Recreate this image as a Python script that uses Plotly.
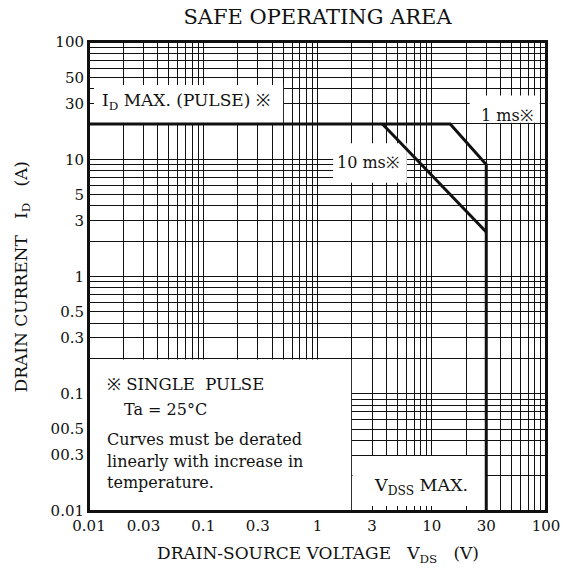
import math
import plotly.graph_objects as go

# ---------------- data ----------------
# outer SOA boundary: ID max (pulse) -> 1 ms line -> VDSS max
soa_v = [0.01, 14.5, 30, 30]
soa_i = [20, 20, 9, 0.01]
# 10 ms line
ms10_v = [3.7, 30]
ms10_i = [20, 2.4]

x_tick_vals = [0.01, 0.03, 0.1, 0.3, 1, 3, 10, 30, 100]
x_tick_text = ["0.01", "0.03", "0.1", "0.3", "1", "3", "10", "30", "100"]
y_tick_vals = [100, 50, 30, 10, 5, 3, 1, 0.5, 0.3, 0.1, 0.05, 0.03, 0.01]
y_tick_text = ["100", "50", "30", "10", "5", "3", "1", "0.5", "0.3", "0.1", "00.5", "00.3", "0.01"]

FONT = "DejaVu Serif"
INK = "#111111"

fig = go.Figure()
fig.add_trace(go.Scatter(x=soa_v, y=soa_i, mode="lines",
                         line=dict(color=INK, width=3), showlegend=False))
fig.add_trace(go.Scatter(x=ms10_v, y=ms10_i, mode="lines",
                         line=dict(color=INK, width=3), showlegend=False))

axis_common = dict(type="log", range=[-2, 2], automargin=False,
                   showgrid=True, gridcolor=INK, gridwidth=1.2,
                   ticks="inside", ticklen=5, tickwidth=1.2, tickcolor=INK,
                   minor=dict(dtick="D1", showgrid=True, gridcolor=INK, gridwidth=1.2,
                              ticks="inside", ticklen=5, tickwidth=1.2, tickcolor=INK),
                   showline=True, linecolor=INK, linewidth=2, mirror="ticks",
                   zeroline=False, tickfont=dict(family=FONT, size=15, color=INK))
fig.update_xaxes(tickmode="array", tickvals=x_tick_vals, ticktext=x_tick_text, **axis_common)
fig.update_yaxes(tickmode="array", tickvals=y_tick_vals, ticktext=y_tick_text, **axis_common)

# white label boxes (layout decoration)
boxes = [
    (0.01, 0.5, 20, 43, "between"),     # ID max label
    (1.37, 6.05, 6.3, 13.7, "between"),  # 10 ms label
    (21.5, 88, 20.5, 35, "between"),     # 1 ms label
    (2.03, 30, 0.01, 0.0295, "between"),  # VDSS max label
    (0.01, 1.97, 0.01, 0.196, "above"),  # note box
]
for x0, x1, y0, y1, layer in boxes:
    fig.add_shape(type="rect", x0=x0, x1=x1, y0=y0, y1=y1, xref="x", yref="y",
                  fillcolor="white", line=dict(width=0), layer=layer)
# plot border on top
fig.add_shape(type="rect", xref="paper", yref="paper", x0=0, x1=1, y0=0, y1=1,
              line=dict(color=INK, width=2), layer="above")

def ann(text, xv, yv, xanchor="left", size=16):
    fig.add_annotation(text=text, x=math.log10(xv), y=math.log10(yv), xref="x", yref="y",
                       xanchor=xanchor, yanchor="middle", showarrow=False,
                       font=dict(family=FONT, size=size, color=INK))

ann("I<sub>D</sub> MAX. (PULSE) ※", 0.0125, 31, size=17)
ann("10 ms※", 2.77, 9.3, "center")
ann("1 ms※", 45.6, 23.4, "center")
ann("V<sub>DSS</sub> MAX.", 3.0, 0.0161, size=17.5)
ann("※\u00a0SINGLE\u00a0\u00a0PULSE", 0.0138, 0.119, size=16.5)
ann("Ta = 25°C", 0.0195, 0.073)
ann("Curves must be derated", 0.0138, 0.0405)
ann("linearly with increase in", 0.0138, 0.0262)
ann("temperature.", 0.0138, 0.0174)

# axis titles
fig.add_annotation(text="DRAIN-SOURCE VOLTAGE\u00a0\u00a0\u00a0V<sub>DS</sub>\u00a0\u00a0\u00a0(V)",
                   xref="paper", yref="paper", x=0.5, y=-43 / 469, xanchor="center",
                   yanchor="middle", showarrow=False,
                   font=dict(family=FONT, size=17, color=INK))
fig.add_annotation(text="DRAIN CURRENT\u00a0\u00a0\u00a0I<sub>D</sub>\u00a0\u00a0\u00a0(A)",
                   xref="paper", yref="paper", x=-67 / 457, y=0.5, xanchor="center",
                   yanchor="middle", textangle=-90, showarrow=False,
                   font=dict(family=FONT, size=17, color=INK))

fig.update_layout(
    width=563, height=579,
    margin=dict(l=89, r=17, t=42, b=68),
    paper_bgcolor="white", plot_bgcolor="white",
    title=dict(text="SAFE OPERATING AREA", x=0.5, xref="paper", xanchor="center",
               y=1 - 17 / 579, yref="container", yanchor="middle",
               font=dict(family=FONT, size=21, color=INK)),
    showlegend=False,
)

fig.write_html("out.html", config={"displayModeBar": False},
               post_script="document.body.style.margin='0';document.body.style.overflow='hidden';")
